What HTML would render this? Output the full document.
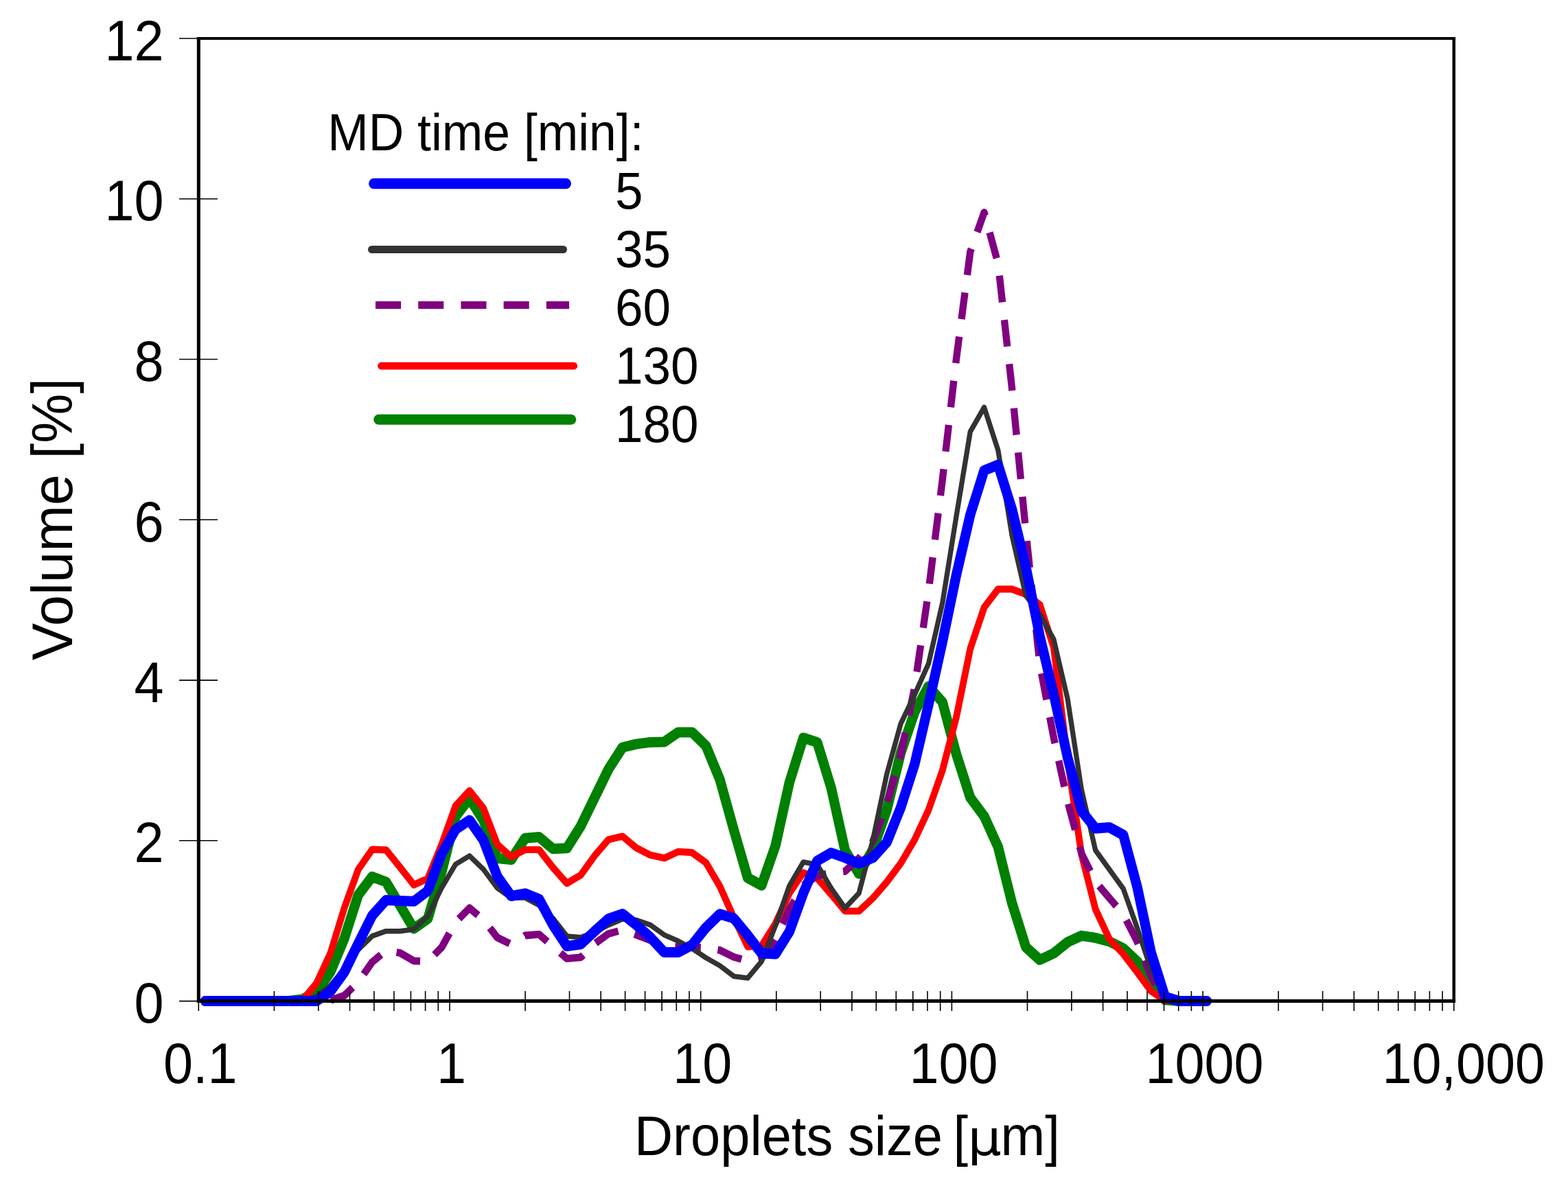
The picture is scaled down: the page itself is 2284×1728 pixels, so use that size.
<!DOCTYPE html>
<html lang="en"><head><meta charset="utf-8"><title>Droplet size distribution</title>
<style>html,body{margin:0;padding:0;background:#fff}body{width:2284px;height:1728px;overflow:hidden}svg{display:block}text{font-family:"Liberation Sans",Arial,Helvetica,sans-serif;fill:#000}.s{font-family:"DejaVu Sans","Liberation Sans",sans-serif}</style>
</head><body>
<svg xmlns="http://www.w3.org/2000/svg" width="2284" height="1728" viewBox="0 0 2284 1728">
<rect width="2284" height="1728" fill="#fff"/>
<g fill="none" stroke-linejoin="round" stroke-linecap="round" transform="scale(0.96 1)">
<polyline id="c-green" stroke="#008000" stroke-width="15"  points="311.4,1458.5 332.5,1458.5 353.6,1458.5 374.7,1458.5 395.8,1458.5 416.9,1458.5 438,1458.5 459.1,1456 480.2,1445.3 501.3,1416.4 522.4,1367.5 543.5,1304.2 564.6,1277.4 585.7,1285 606.8,1319 627.9,1353.1 649.1,1338.6 670.2,1270 691.3,1190 712.4,1163 733.5,1195 754.6,1250.5 775.7,1252.5 796.8,1221.2 817.9,1219.5 839,1236.7 860.1,1235.8 881.2,1203.7 902.3,1162 923.4,1120.5 944.5,1089 965.6,1084.1 986.8,1081.4 1007.9,1081 1029,1066.9 1050.1,1066.9 1071.2,1086.8 1092.3,1136 1113.4,1209 1134.5,1279 1155.6,1290 1176.7,1232 1197.8,1140 1218.9,1075 1240,1081.7 1261.1,1147.7 1282.2,1239 1303.3,1273 1324.5,1238 1345.6,1180 1366.7,1097.1 1387.8,1037.4 1408.9,1000 1430,1023 1451.1,1098.9 1472.2,1162.2 1493.3,1189.3 1514.4,1234 1535.5,1315.7 1556.6,1380 1577.7,1398.5 1598.8,1389 1619.9,1372.7 1641,1363.3 1662.2,1366.4 1683.3,1371.8 1704.4,1381.7 1725.5,1400.7 1746.6,1429.7 1767.7,1456.8 1788.8,1458.5 1809.9,1458.5 1831,1458.5"/>
<polyline id="c-red" stroke="#ff0000" stroke-width="10.2"  points="311.4,1458.5 332.5,1458.5 353.6,1458.5 374.7,1458.5 395.8,1458.5 416.9,1458.5 438,1458.5 459.1,1457 480.2,1432.6 501.3,1389 522.4,1323 543.5,1267 564.6,1237.7 585.7,1238.3 606.8,1263.4 627.9,1289.2 649.1,1280 670.2,1230.2 691.3,1174 712.4,1152 733.5,1177.5 754.6,1230.5 775.7,1248.4 796.8,1238 817.9,1238 839,1264 860.1,1287 881.2,1275 902.3,1246.7 923.4,1223.2 944.5,1218.6 965.6,1235.4 986.8,1245.8 1007.9,1250.3 1029,1240.8 1050.1,1242.2 1071.2,1257 1092.3,1291.5 1113.4,1337 1134.5,1379.3 1155.6,1378 1176.7,1345.5 1197.8,1301.3 1218.9,1271.4 1240,1279.6 1261.1,1303 1282.2,1327.5 1303.3,1327.5 1324.5,1308.5 1345.6,1285 1366.7,1257.9 1387.8,1223.5 1408.9,1180 1430,1122.4 1451.1,1044.7 1472.2,945.2 1493.3,885 1514.4,858.4 1535.5,858.4 1556.6,866 1577.7,881 1598.8,943 1619.9,1107 1641,1245 1662.2,1324.8 1683.3,1368.2 1704.4,1390 1725.5,1416.5 1746.6,1444.1 1767.7,1458 1788.8,1458.5 1809.9,1458.5 1831,1458.5"/>
<polyline id="c-purple-a" stroke="#800080" stroke-width="10.8" stroke-linecap="butt" stroke-dasharray="39.0 25.8" stroke-dashoffset="4" points="311.4,1458.5 332.5,1458.5 353.6,1458.5 374.7,1458.5 395.8,1458.5 416.9,1458.5 438,1458.5 459.1,1458.5 480.2,1458.5 501.3,1457.5 522.4,1450.5 543.5,1431 564.6,1401.9 585.7,1385 606.8,1388.3 627.9,1400 649.1,1401 670.2,1380.2 691.3,1343.5 712.4,1323 733.5,1340 754.6,1366 775.7,1376 796.8,1363 817.9,1361.3 839,1379 860.1,1396.6 881.2,1394.8 902.3,1375 923.4,1360.4 944.5,1355 965.6,1362.2 986.8,1370 1007.9,1378 1029,1379.4 1050.1,1380 1071.2,1381 1092.3,1384.4 1113.4,1394.4 1134.5,1400 1155.6,1396 1176.7,1370 1197.8,1324.8 1218.9,1290 1240,1276 1261.1,1272 1282.2,1269.6 1303.3,1250.6"/>
<polyline id="c-purple-b" stroke="#800080" stroke-width="10.8" stroke-linecap="butt" stroke-dasharray="39.0 25.8" stroke-dashoffset="34.9" points="1303.3,1250.6 1324.5,1226 1345.6,1171.2 1366.7,1100 1387.8,1001.3 1408.9,861 1430,699 1451.1,522.3 1472.2,366.8 1493.3,309.5"/>
<polyline id="c-purple-c" stroke="#800080" stroke-width="10.8" stroke-linecap="butt" stroke-dasharray="39.0 25.8" stroke-dashoffset="34.4" points="1493.3,309.5 1514.4,384 1535.5,566 1556.6,775 1577.7,968 1598.8,1074.8 1619.9,1167.7 1641,1243.4 1662.2,1284.5 1683.3,1308.5 1704.4,1332 1725.5,1371.8 1746.6,1422.4 1767.7,1457 1788.8,1458.5 1809.9,1458.5 1831,1458.5"/>
<circle cx="1493.3" cy="309.5" r="5.4" fill="#800080" stroke="none"/>
<polyline id="c-gray" stroke="#333333" stroke-width="7.6"  points="311.4,1458.5 332.5,1458.5 353.6,1458.5 374.7,1458.5 395.8,1458.5 416.9,1458.5 438,1458.5 459.1,1458.5 480.2,1452 501.3,1436 522.4,1412 543.5,1383.8 564.6,1363.9 585.7,1356.7 606.8,1356.7 627.9,1354 649.1,1335 670.2,1293.4 691.3,1259.2 712.4,1247 733.5,1266.6 754.6,1293.8 775.7,1308.3 796.8,1308 817.9,1318.8 839,1338 860.1,1364 881.2,1365.8 902.3,1358 923.4,1347.7 944.5,1339 965.6,1340.5 986.8,1347.7 1007.9,1362.2 1029,1371 1050.1,1382 1071.2,1395.5 1092.3,1407 1113.4,1422.4 1134.5,1425.1 1155.6,1400.7 1176.7,1348.3 1197.8,1290.4 1218.9,1256 1240,1259.7 1261.1,1294 1282.2,1323 1303.3,1301.3 1324.5,1223.5 1345.6,1127.5 1366.7,1054.5 1387.8,1012.1 1408.9,966.9 1430,878.5 1451.1,752 1472.2,629 1493.3,593.5 1514.4,656 1535.5,780 1556.6,868 1577.7,895 1598.8,931.5 1619.9,1018.4 1641,1150.5 1662.2,1238.9 1683.3,1266.9 1704.4,1294.9 1725.5,1351.9 1746.6,1413 1767.7,1453 1788.8,1458.5 1809.9,1458.5 1831,1458.5"/>
<polyline id="c-blue" stroke="#0000ff" stroke-width="15"  points="311.4,1458.5 332.5,1458.5 353.6,1458.5 374.7,1458.5 395.8,1458.5 416.9,1458.5 438,1458.5 459.1,1458.5 480.2,1458.5 501.3,1444.4 522.4,1416.4 543.5,1374.8 564.6,1334.1 585.7,1311.5 606.8,1312.4 627.9,1313.3 649.1,1298 670.2,1244 691.3,1208.5 712.4,1195 733.5,1224 754.6,1277 775.7,1305.5 796.8,1301.8 817.9,1310 839,1347.7 860.1,1378.5 881.2,1375.8 902.3,1356.8 923.4,1338.7 944.5,1331.5 965.6,1347.7 986.8,1365.8 1007.9,1387.5 1029,1387.5 1050.1,1376.7 1071.2,1351.4 1092.3,1331.7 1113.4,1338 1134.5,1362.7 1155.6,1389 1176.7,1389.9 1197.8,1357.3 1218.9,1301.3 1240,1254.2 1261.1,1242.5 1282.2,1249.7 1303.3,1257.9 1324.5,1249.7 1345.6,1227.1 1366.7,1176.7 1387.8,1113.4 1408.9,1026.6 1430,935 1451.1,837.5 1472.2,750 1493.3,685.5 1514.4,677.2 1535.5,742 1556.6,826 1577.7,927 1598.8,1011.5 1619.9,1103.7 1641,1181.5 1662.2,1207 1683.3,1205.5 1704.4,1216.5 1725.5,1292.2 1746.6,1388 1767.7,1452.3 1788.8,1458.5 1809.9,1458.5 1831,1458.5"/>
</g>
<g stroke="#000" fill="none">
<path stroke-width="5" d="M289.3 54 V1461.1"/>
<path stroke-width="4.5" d="M2117.8 54 V1461.1"/>
<path stroke-width="4" d="M286.8 56 H2120.1"/>
<path stroke-width="5" d="M286.8 1458.6 H2120.1"/>
<path stroke-width="1.6" d="M289.3 1444V1473M399.4 1444V1473M463.8 1444V1473M509.5 1444V1473M544.9 1444V1473M573.9 1444V1473M598.4 1444V1473M619.6 1444V1473M638.3 1444V1473M655 1444V1473M765.1 1444V1473M829.5 1444V1473M875.2 1444V1473M910.6 1444V1473M939.6 1444V1473M964.1 1444V1473M985.3 1444V1473M1004 1444V1473M1020.7 1444V1473M1130.8 1444V1473M1195.2 1444V1473M1240.9 1444V1473M1276.3 1444V1473M1305.3 1444V1473M1329.8 1444V1473M1351 1444V1473M1369.7 1444V1473M1386.4 1444V1473M1496.5 1444V1473M1560.9 1444V1473M1606.6 1444V1473M1642 1444V1473M1671 1444V1473M1695.5 1444V1473M1716.7 1444V1473M1735.4 1444V1473M1752.1 1444V1473M1862.2 1444V1473M1926.6 1444V1473M1972.3 1444V1473M2007.7 1444V1473M2036.7 1444V1473M2061.2 1444V1473M2082.4 1444V1473M2101.1 1444V1473M2117.8 1444V1473M261 1458.6H289.3M261 1224.8H317M261 991.1H317M261 757.3H317M261 523.5H317M261 289.8H317M261 56H289.3"/>
</g>
<text id="yl0" transform="translate(238.5 1490.1) scale(0.933 1)" font-size="82.9" text-anchor="end">0</text>
<text id="yl1" transform="translate(238.5 1256.3) scale(0.933 1)" font-size="82.9" text-anchor="end">2</text>
<text id="yl2" transform="translate(238.5 1022.6) scale(0.933 1)" font-size="82.9" text-anchor="end">4</text>
<text id="yl3" transform="translate(238.5 788.8) scale(0.933 1)" font-size="82.9" text-anchor="end">6</text>
<text id="yl4" transform="translate(238.5 555) scale(0.933 1)" font-size="82.9" text-anchor="end">8</text>
<text id="yl5" transform="translate(238.5 321.3) scale(0.933 1)" font-size="82.9" text-anchor="end">10</text>
<text id="yl6" transform="translate(238.5 87.5) scale(0.933 1)" font-size="82.9" text-anchor="end">12</text>
<text id="xl0" transform="translate(291.8 1578.2) scale(0.933 1)" font-size="82.9" text-anchor="middle">0.1</text>
<text id="xl1" transform="translate(657.5 1578.2) scale(0.933 1)" font-size="82.9" text-anchor="middle">1</text>
<text id="xl2" transform="translate(1023.2 1578.2) scale(0.933 1)" font-size="82.9" text-anchor="middle">10</text>
<text id="xl3" transform="translate(1388.9 1578.2) scale(0.933 1)" font-size="82.9" text-anchor="middle">100</text>
<text id="xl4" transform="translate(1754.6 1578.2) scale(0.933 1)" font-size="82.9" text-anchor="middle">1000</text>
<text id="xl5" transform="translate(2131.8 1578.2) scale(0.933 1)" font-size="82.9" text-anchor="middle">10,000</text>
<text id="xt" transform="translate(924 1683.2) scale(0.95 1)" font-size="81.8">Droplets size<tspan dx="-6.5"> [</tspan><tspan class="s" font-size="70.8" dx="-0.5" textLength="52" lengthAdjust="spacingAndGlyphs">µ</tspan><tspan dx="-1.5">m]</tspan></text>
<text id="yt" transform="translate(105.2 756.5) rotate(-90) scale(0.979 1)" font-size="83.0" text-anchor="middle">Volume [%]</text>
<text id="lt" transform="translate(477.2 218.8) scale(0.95 1)" font-size="75.2">MD time [min]:</text>
<path d="M544.8 267.5H824.3" stroke="#0000ff" stroke-width="15.4" stroke-linecap="round" fill="none"/>
<text id="lg5" transform="translate(896 304.3) scale(0.956 1)" font-size="76.2">5</text>
<path d="M541.5 363.5H820.5" stroke="#333333" stroke-width="11" stroke-linecap="round" fill="none"/>
<text id="lg35" transform="translate(896 389.3) scale(0.956 1)" font-size="76.2">35</text>
<path d="M547 444.5H829.1" stroke="#800080" stroke-width="11.2" stroke-dasharray="37.1 25.1" fill="none"/>
<text id="lg60" transform="translate(896 474.3) scale(0.956 1)" font-size="76.2">60</text>
<path d="M555.5 533.2H835.8" stroke="#ff0000" stroke-width="10.8" stroke-linecap="round" fill="none"/>
<text id="lg130" transform="translate(896 559.3) scale(0.956 1)" font-size="76.2">130</text>
<path d="M551.7 611.2H831.8" stroke="#008000" stroke-width="15" stroke-linecap="round" fill="none"/>
<text id="lg180" transform="translate(896 644.3) scale(0.956 1)" font-size="76.2">180</text>
</svg>
</body></html>
